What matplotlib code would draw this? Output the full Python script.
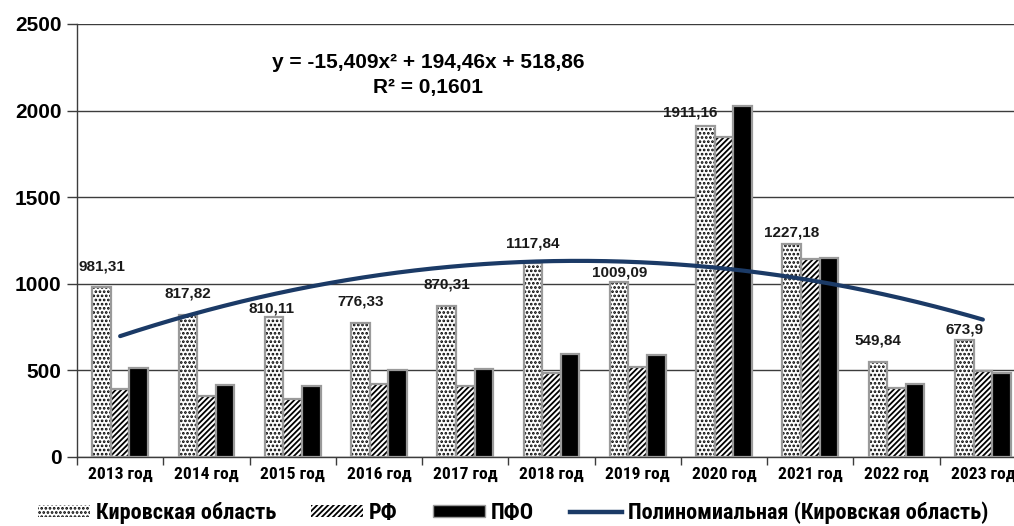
import matplotlib
matplotlib.use('Agg')
import matplotlib.pyplot as plt
import numpy as np
from matplotlib import font_manager as fm
from matplotlib.patches import Patch
from matplotlib.lines import Line2D

# ---- data ----
years = ['2013 год', '2014 год', '2015 год', '2016 год', '2017 год', '2018 год',
         '2019 год', '2020 год', '2021 год', '2022 год', '2023 год']
kirov = [981.31, 817.82, 810.11, 776.33, 870.31, 1117.84, 1009.09, 1911.16, 1227.18, 549.84, 673.9]
kirov_labels = ['981,31', '817,82', '810,11', '776,33', '870,31', '1117,84', '1009,09',
                '1911,16', '1227,18', '549,84', '673,9']
rf = [391, 352, 337, 420, 412, 487, 521, 1849, 1141, 400, 498]
pfo = [512, 416, 410, 502, 510, 595, 589, 2027, 1151, 421, 483]
yticks = [0, 500, 1000, 1500, 2000, 2500]
series_names = ['Кировская область', 'РФ', 'ПФО', 'Полиномиальная (Кировская область)']
equation = 'y = -15,409x² + 194,46x + 518,86'
r2 = 'R² = 0,1601'

# label placement (pixels above bar top, horizontal shift)
label_dy = [21, 22, 8, 21, 22, 20, 10, 13, 12, 21, 11]
label_dx = [0, 0, -3, 0, 0, 0, 0, -15, 0, 0, 0]

names = {f.name for f in fm.fontManager.ttflist}
narrow = None
for cand in ['Liberation Sans Narrow', 'Arial Narrow', 'DejaVu Sans Condensed',
             'Roboto Condensed', 'Open Sans Condensed']:
    if cand in names:
        narrow = cand
        break
base = 'Liberation Sans' if 'Liberation Sans' in names else 'DejaVu Sans'
if narrow is None:
    narrow = base
    tick_size, leg_size = 11.5, 13
else:
    tick_size, leg_size = 12.6, 16
plt.rcParams['font.family'] = [base, 'DejaVu Sans']
plt.rcParams['hatch.linewidth'] = 1.3

W, H = 1014, 526
fig = plt.figure(figsize=(W / 100, H / 100), dpi=100)
ax = fig.add_axes([77 / W, (H - 457) / H, 949 / W, 433 / H])

n = len(years)
x = np.arange(n)
bw = 0.215
edge = '#9a9a9a'

# Kirov – dotted
ax.bar(x - bw, kirov, bw, color='white', hatch='....', edgecolor='black', linewidth=0, zorder=3)
ax.bar(x - bw, kirov, bw, color='none', edgecolor=edge, linewidth=1.6, zorder=4)
# RF – diagonal
ax.bar(x, rf, bw, color='white', hatch='//////', edgecolor='black', linewidth=0, zorder=3)
ax.bar(x, rf, bw, color='none', edgecolor=edge, linewidth=1.6, zorder=4)
# PFO – black
ax.bar(x + bw, pfo, bw, color='black', edgecolor=edge, linewidth=1.6, zorder=4)

# polynomial trend of Kirov series
coef = np.polyfit(x + 1, kirov, 2)
xs = np.linspace(0, n - 1, 200)
ax.plot(xs, np.polyval(coef, xs + 1), color='#1b3a66', linewidth=3.0, zorder=5,
        solid_capstyle='round')

for i, (v, lab) in enumerate(zip(kirov, kirov_labels)):
    ax.annotate(lab, (x[i] - bw, v), xytext=(label_dx[i], label_dy[i]),
                textcoords='offset pixels', ha='center', va='center',
                fontsize=11, fontweight='bold', color='#1a1a1a', zorder=6)

ax.set_xlim(-0.5, n - 0.5)
ax.set_ylim(0, 2500)
ax.set_yticks(yticks)
ax.set_yticklabels([str(t) for t in yticks], fontsize=15, fontweight='bold')
ax.yaxis.grid(True, color='#3c3c3c', linewidth=1.0, zorder=0)
ax.set_axisbelow(True)

ax.set_xticks(np.arange(n + 1) - 0.5)
ax.set_xticklabels([])
ax.set_xticks(x, minor=True)
ax.set_xticklabels(years, minor=True, fontsize=tick_size, fontweight='bold',
                   family=[narrow, 'DejaVu Sans'])
ax.tick_params(axis='x', which='minor', length=0, pad=7)
ax.tick_params(axis='x', which='major', length=6, width=1, color='#3c3c3c', direction='out')
ax.tick_params(axis='y', length=7, width=1, color='#3c3c3c', pad=4)

for s in ['top', 'right']:
    ax.spines[s].set_visible(False)
for s in ['left', 'bottom']:
    ax.spines[s].set_color('#3c3c3c')
    ax.spines[s].set_linewidth(1.0)

fig.text(428 / W, 1 - 63 / H, equation, ha='center', va='center', fontsize=15, fontweight='bold')
fig.text(428 / W, 1 - 87 / H, r2, ha='center', va='center', fontsize=15, fontweight='bold')

handles = [Patch(facecolor='white', edgecolor='black', hatch='....', linewidth=0),
           Patch(facecolor='white', edgecolor='black', hatch='//////', linewidth=0),
           Patch(facecolor='black', edgecolor=edge, linewidth=1),
           Line2D([], [], color='#1b3a66', linewidth=3.2)]
leg_x = [38, 311, 433, 570]
fs_px = leg_size * 100 / 72
for h, name, lx in zip(handles, series_names, leg_x):
    lg = fig.legend([h], [name], loc='center left', bbox_to_anchor=(lx / W, 1 - 513 / H),
                    frameon=False, borderpad=0, borderaxespad=0,
                    prop={'family': [narrow, 'DejaVu Sans'], 'size': leg_size, 'weight': 'bold'},
                    handlelength=52 / fs_px, handleheight=0.45, handletextpad=6 / fs_px)

fig.savefig('out.png', dpi=100)
